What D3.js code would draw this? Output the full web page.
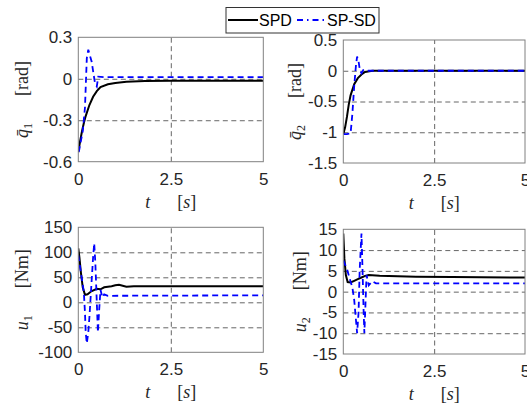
<!DOCTYPE html>
<html lang="en">
<head>
<meta charset="UTF-8">
<title>SPD vs SP-SD</title>
<script src="https://cdn.jsdelivr.net/npm/d3@7"></script>
<style>
body { margin: 0; background: #fff; }
svg { display: block; }
.tick text { font-family: "Liberation Sans", Arial, sans-serif; font-size: 17px; fill: #262626; }
.grid line { stroke: #555; stroke-dasharray: 5,3.5; stroke-width: 0.9; }
.grid path, .ax path { display: none; }
.lbl { font-family: "Liberation Serif", "DejaVu Serif", serif; font-size: 18px; fill: #262626; }
</style>
</head>
<body>
<svg width="527" height="405"></svg>
<script>
// time axis ticks
var tTicks = [0, 2.5, 5];

// q1 (rad)
var q1SpdT = [0, 0.05, 0.1, 0.15, 0.2, 0.3, 0.4, 0.5, 0.6, 0.8, 1.0, 1.3, 1.8, 2.5, 5];
var q1Spd  = [-0.53, -0.45, -0.38, -0.32, -0.27, -0.19, -0.13, -0.09, -0.06, -0.04, -0.03, -0.022, -0.016, -0.014, -0.014];
var q1SpsdT = [0, 0.02, 0.12, 0.18, 0.23, 0.27, 0.36, 0.45, 0.5, 0.54, 0.7, 5];
var q1Spsd  = [-0.53, -0.52, -0.38, -0.21, 0.15, 0.21, 0.125, -0.03, -0.055, 0.015, 0.012, 0.012];
var q1Ticks = [0.3, 0, -0.3, -0.6];

// q2 (rad)
var q2SpdT = [0, 0.05, 0.1, 0.15, 0.2, 0.3, 0.4, 0.5, 0.6, 0.8, 5];
var q2Spd  = [-1.03, -0.92, -0.75, -0.55, -0.40, -0.22, -0.12, -0.06, -0.02, 0, 0];
var q2SpsdT = [0, 0.1, 0.2, 0.25, 0.3, 0.35, 0.38, 0.42, 0.46, 0.5, 0.55, 0.6, 5];
var q2Spsd  = [-1.03, -1.03, -1.02, -0.7, -0.25, 0.1, 0.23, 0.15, 0.0, -0.04, 0.01, 0, 0];
var q2Ticks = [0.5, 0, -0.5, -1, -1.5];

// u1 (Nm)
var u1SpdT = [0, 0.03, 0.07, 0.12, 0.18, 0.25, 0.35, 0.5, 0.6, 0.7, 0.8, 0.9, 1.0, 1.1, 1.2, 1.3, 1.5, 2, 3, 5];
var u1Spd  = [108, 90, 60, 30, 15, 16, 22, 27, 26, 30, 31, 32, 34, 35, 33, 31, 32, 32, 32, 32];
var u1SpsdT = [0, 0.05, 0.1, 0.15, 0.18, 0.2, 0.23, 0.27, 0.3, 0.35, 0.4, 0.43, 0.46, 0.5, 0.53, 0.56, 0.6, 0.65, 0.7, 0.8, 5];
var u1Spsd  = [94, 70, 45, 20, -20, -60, -82, -60, -30, 30, 90, 118, 80, 0, -60, -20, 25, 10, 16, 13, 14];
var u1Ticks = [150, 100, 50, 0, -50, -100];

// u2 (Nm)
var u2SpdT = [0, 0.03, 0.07, 0.12, 0.2, 0.3, 0.4, 0.5, 0.6, 0.7, 1.0, 2, 3, 5];
var u2Spd  = [14, 8, 4, 2.3, 2.2, 2.6, 3.0, 3.4, 3.8, 4.0, 3.8, 3.6, 3.5, 3.4];
var u2SpsdT = [0, 0.05, 0.1, 0.18, 0.25, 0.3, 0.35, 0.38, 0.42, 0.45, 0.5, 0.53, 0.56, 0.58, 0.61, 0.64, 0.7, 0.8, 0.9, 5];
var u2Spsd  = [7.5, 6.5, 5.5, 3, 1, -2, -7, -10, -5, 5, 14, 5, -5, -10, -3, 4, 1.5, 2.5, 2, 2];
var u2Ticks = [15, 10, 5, 0, -5, -10, -15];

var svg = d3.select('svg');

var panels = [
  {x0: 78.3, x1: 263.3, y0: 37.3, y1: 161.7, yTicks: q1Ticks, sym: 'q', bar: true, sub: '1', unit: '[rad]', labX: 28,
   spd: [q1SpdT, q1Spd], spsd: [q1SpsdT, q1Spsd]},
  {x0: 343.3, x1: 525, y0: 40, y1: 163, yTicks: q2Ticks, sym: 'q', bar: true, sub: '2', unit: '[rad]', labX: 301,
   spd: [q2SpdT, q2Spd], spsd: [q2SpsdT, q2Spsd]},
  {x0: 78.3, x1: 263.3, y0: 227.3, y1: 352.3, yTicks: u1Ticks, sym: 'u', bar: false, sub: '1', unit: '[Nm]', labX: 28,
   spd: [u1SpdT, u1Spd], spsd: [u1SpsdT, u1Spsd]},
  {x0: 343.3, x1: 525, y0: 229.3, y1: 354, yTicks: u2Ticks, sym: 'u', bar: false, sub: '2', unit: '[Nm]', labX: 306,
   spd: [u2SpdT, u2Spd], spsd: [u2SpsdT, u2Spsd]}
];

panels.forEach(function(p, k) {
  var x = d3.scaleLinear().domain([0, 5]).range([p.x0, p.x1]);
  var y = d3.scaleLinear().domain(d3.extent(p.yTicks)).range([p.y1, p.y0]);
  var w = p.x1 - p.x0, h = p.y1 - p.y0;

  // grid
  svg.append('g').attr('class', 'grid')
    .attr('transform', 'translate(0,' + p.y1 + ')')
    .call(d3.axisBottom(x).tickValues([2.5]).tickSize(-h).tickFormat(''));
  svg.append('g').attr('class', 'grid')
    .attr('transform', 'translate(' + p.x0 + ',0)')
    .call(d3.axisLeft(y).tickValues(p.yTicks.slice(1, -1)).tickSize(-w).tickFormat(''));

  // tick labels
  svg.append('g').attr('class', 'ax')
    .attr('transform', 'translate(0,' + p.y1 + ')')
    .call(d3.axisBottom(x).tickValues(tTicks).tickSize(0).tickPadding(11).tickFormat(d3.format('')));
  svg.append('g').attr('class', 'ax')
    .attr('transform', 'translate(' + p.x0 + ',0)')
    .call(d3.axisLeft(y).tickValues(p.yTicks).tickSize(0).tickPadding(6).tickFormat(d3.format('')))
    .selectAll('text').text(function(d) { return d3.format('')(d).replace('−', '-'); });

  // lines
  var clipId = 'clip' + k;
  svg.append('clipPath').attr('id', clipId).append('rect')
    .attr('x', p.x0).attr('y', p.y0).attr('width', w).attr('height', h);
  var line = d3.line().x(function(d) { return x(d[0]); }).y(function(d) { return y(d[1]); });
  var spd = d3.zip(p.spd[0], p.spd[1]);
  var spsd = d3.zip(p.spsd[0], p.spsd[1]);
  var g = svg.append('g').attr('clip-path', 'url(#' + clipId + ')');
  g.append('path').datum(spd).attr('d', line)
    .attr('fill', 'none').attr('stroke', '#000').attr('stroke-width', 2);
  g.append('path').datum(spsd).attr('d', line)
    .attr('fill', 'none').attr('stroke', '#0000ff').attr('stroke-width', 1.8)
    .attr('stroke-dasharray', '6,4');

  // box
  svg.append('rect').attr('x', p.x0).attr('y', p.y0).attr('width', w).attr('height', h)
    .attr('fill', 'none').attr('stroke', '#808080').attr('stroke-width', 1);

  // x label
  var xl = svg.append('text').attr('class', 'lbl')
    .attr('x', (p.x0 + p.x1) / 2 + 0).attr('y', p.y1 + 46).attr('text-anchor', 'middle');
  xl.append('tspan').attr('font-style', 'italic').text('t');
  xl.append('tspan').attr('xml:space', 'preserve').text('\u2003\u2002[');
  xl.append('tspan').attr('font-style', 'italic').text('s');
  xl.append('tspan').text(']');

  // y label
  var cy = (p.y0 + p.y1) / 2;
  var yl = svg.append('text').attr('class', 'lbl')
    .attr('transform', 'translate(' + p.labX + ',' + cy + ') rotate(-90)')
    .attr('text-anchor', 'middle');
  yl.append('tspan').attr('font-style', 'italic').text(p.bar ? p.sym + '\u0304' : p.sym);
  yl.append('tspan').attr('font-size', '12px').attr('dy', 4).text(p.sub);
  yl.append('tspan').attr('dy', -4).text('\u2003\u2002' + p.unit);
});

// legend
var leg = svg.append('g');
leg.append('rect').attr('x', 226).attr('y', 7.5).attr('width', 153).attr('height', 25.5)
  .attr('fill', '#fff').attr('stroke', '#333').attr('stroke-width', 1);
leg.append('line').attr('x1', 228).attr('x2', 258).attr('y1', 20).attr('y2', 20)
  .attr('stroke', '#000').attr('stroke-width', 2);
leg.append('text').attr('x', 259).attr('y', 26).text('SPD')
  .style('font-family', '"Liberation Sans", Arial, sans-serif').style('font-size', '16px').attr('fill', '#000');
leg.append('line').attr('x1', 297).attr('x2', 326).attr('y1', 20).attr('y2', 20)
  .attr('stroke', '#0000ff').attr('stroke-width', 1.8).attr('stroke-dasharray', '6,4,1.5,4');
leg.append('text').attr('x', 327).attr('y', 26).text('SP-SD')
  .style('font-family', '"Liberation Sans", Arial, sans-serif').style('font-size', '16px').attr('fill', '#000');
</script>
</body>
</html>
